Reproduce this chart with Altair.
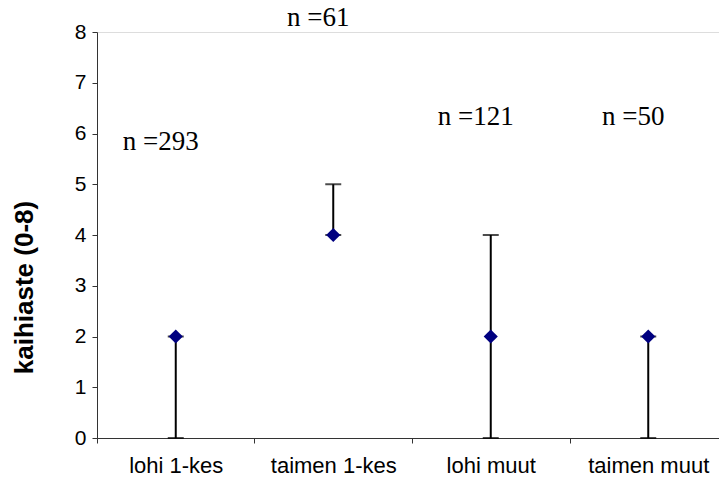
import json
import altair as alt
import pandas as pd

categories = ["lohi 1-kes", "taimen 1-kes", "lohi muut", "taimen muut"]
medians = [2, 4, 2, 2]
lows = [0, 4, 0, 0]
highs = [2, 5, 4, 2]
n_labels = ["n =293", "n =61", "n =121", "n =50"]
n_label_levels = [5.83, 8.27, 6.32, 6.32]

df = pd.DataFrame({
    "cat": categories,
    "pos": [i + 0.5 for i in range(len(categories))],
    "median": medians,
    "low": lows,
    "high": highs,
    "nlab": n_labels,
    "nlev": n_label_levels,
})

W, H = 622, 406
band = 157.5
xmax = W / band

label_expr = json.dumps(categories) + "[datum.value]"

x_enc = alt.X(
    "pos:Q",
    scale=alt.Scale(domain=[0, xmax], nice=False, zero=False),
    axis=alt.Axis(
        values=[0, 1, 2, 3],
        labelExpr=label_expr,
        labelOffset=band / 2,
        labelAlign="center",
        labelBaseline="top",
        labelPadding=12,
        labelFont="Liberation Sans",
        labelFontSize=22,
        labelColor="black",
        tickSize=5,
        tickColor="#333",
        domainColor="#333",
        grid=False,
        title=None,
        labelFlush=False,
        labelOverlap=False,
    ),
)

y_scale = alt.Scale(domain=[0, 8], nice=False)
y_axis = alt.Axis(
    values=list(range(9)),
    grid=False,
    tickSize=5,
    tickColor="#333",
    domainColor="#333",
    labelFont="Liberation Sans",
    labelFontSize=21,
    labelColor="black",
    labelPadding=6,
    title="kaihiaste (0-8)",
    titleFont="Liberation Sans",
    titleFontSize=26,
    titleFontWeight="bold",
    titleColor="black",
    titleAngle=-90,
    titleX=-73,
    titleY=255,
    titleAlign="center",
    titleBaseline="middle",
)

base = alt.Chart(df)

rules = base.mark_rule(color="black", strokeWidth=2).encode(
    x=x_enc,
    y=alt.Y("low:Q", scale=y_scale, axis=y_axis),
    y2="high:Q",
)

caps_low = base.mark_tick(orient="horizontal", size=16, thickness=2, color="black").encode(
    x="pos:Q", y="low:Q"
)
caps_high = base.mark_tick(orient="horizontal", size=16, thickness=2, color="black").encode(
    x="pos:Q", y="high:Q"
)

points = base.mark_point(shape="diamond", filled=True, size=200, color="#000080", opacity=1).encode(
    x="pos:Q", y="median:Q"
)

texts = base.mark_text(
    font="Liberation Serif", fontSize=27, color="black", dx=-15, align="center", baseline="middle"
).encode(x="pos:Q", y="nlev:Q", text="nlab:N")

chart = (
    alt.layer(rules, caps_low, caps_high, points, texts)
    .properties(
        width=W,
        height=H,
        autosize=alt.AutoSizeParams(type="none"),
        padding={"left": 97, "top": 32, "right": 0, "bottom": 43},
    )
    .configure_view(stroke=None)
    .configure(background="white")
)

chart.save("out.html", embed_options={"renderer": "svg", "actions": False})
